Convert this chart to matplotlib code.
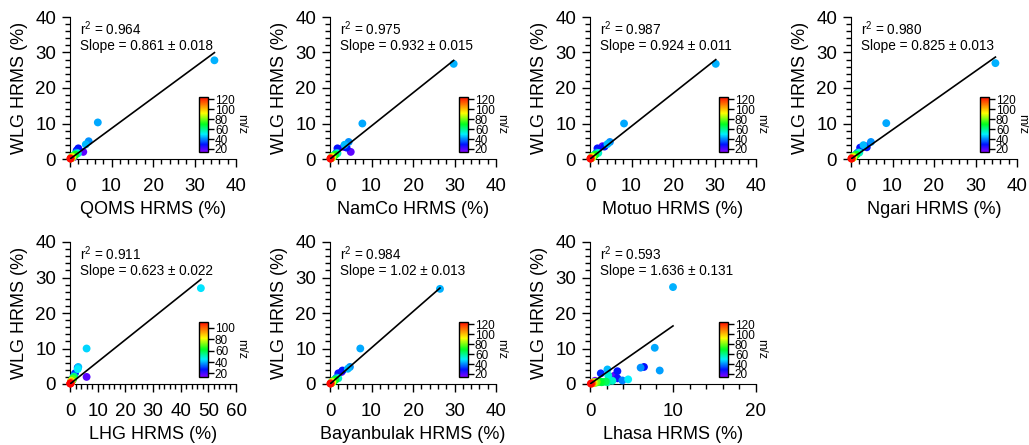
import numpy as np
import matplotlib.pyplot as plt
from matplotlib.colors import LinearSegmentedColormap
from matplotlib.ticker import MultipleLocator

plt.rcParams['font.family'] = 'Liberation Sans'
plt.rcParams['mathtext.fontset'] = 'custom'
plt.rcParams['mathtext.rm'] = 'Liberation Sans'
plt.rcParams['mathtext.default'] = 'regular'

# ion m/z shared by all sites
mz = [15, 18, 27, 28, 29, 31, 39, 41, 42, 43, 44, 45, 50, 53, 55,
      57, 60, 65, 67, 69, 71, 77, 79, 81, 85, 91, 95, 105, 115, 125]

# fraction of total signal (%) at each site (x) against WLG (y)
qoms_x = [0.9, 3.2, 1.6, 2.0, 1.6, 0.8, 1.5, 4.5, 0.9, 6.7, 34.8, 3.8, 0.3, 0.8, 1.9,
          1.2, 0.4, 0.5, 1.0, 1.3, 0.7, 0.6, 0.5, 0.6, 0.4, 0.5, 0.3, 0.2, 0.15, 0.1]
qoms_y = [0.5, 2.0, 1.5, 3.0, 2.4, 0.9, 1.8, 5.0, 1.0, 10.3, 27.8, 4.1, 0.3, 0.7, 1.6,
          1.3, 0.5, 0.6, 0.9, 1.2, 0.8, 0.6, 0.4, 0.7, 0.3, 0.5, 0.3, 0.2, 0.15, 0.1]

namco_x = [3.3, 5.0, 1.4, 1.8, 4.0, 0.8, 1.5, 4.5, 0.9, 7.8, 29.8, 3.5, 0.3, 0.8, 1.8,
           1.2, 0.4, 0.5, 1.0, 1.3, 0.7, 0.6, 0.5, 0.6, 0.4, 0.5, 0.3, 0.2, 0.15, 0.1]
namco_y = [3.4, 2.0, 1.5, 3.0, 3.2, 0.9, 1.7, 4.8, 1.0, 10.0, 26.8, 4.0, 0.3, 0.7, 1.6,
           1.2, 0.5, 0.6, 0.9, 1.2, 0.8, 0.6, 0.4, 0.7, 0.3, 0.5, 0.3, 0.2, 0.15, 0.1]

motuo_x = [1.0, 3.0, 1.4, 1.8, 3.5, 0.8, 1.6, 4.8, 0.9, 8.2, 30.3, 4.2, 0.3, 0.8, 2.0,
           1.2, 0.4, 0.5, 1.0, 1.3, 0.7, 0.6, 0.5, 0.6, 0.4, 0.5, 0.3, 0.2, 0.15, 0.1]
motuo_y = [1.0, 3.6, 1.5, 3.0, 3.5, 0.9, 1.8, 4.8, 1.0, 10.0, 26.8, 4.2, 0.3, 0.7, 1.7,
           1.2, 0.5, 0.6, 0.9, 1.2, 0.8, 0.6, 0.4, 0.7, 0.3, 0.5, 0.3, 0.2, 0.15, 0.1]

ngari_x = [1.0, 3.5, 1.4, 2.2, 3.8, 0.8, 1.6, 4.8, 0.9, 8.5, 34.8, 3.0, 0.3, 0.8, 2.0,
           1.2, 0.4, 0.5, 1.0, 1.3, 0.7, 0.6, 0.5, 0.6, 0.4, 0.5, 0.3, 0.2, 0.15, 0.1]
ngari_y = [1.0, 3.6, 1.5, 3.2, 3.3, 0.9, 1.8, 4.8, 1.0, 10.1, 27.0, 3.9, 0.3, 0.7, 1.8,
           1.2, 0.5, 0.6, 0.9, 1.2, 0.8, 0.6, 0.4, 0.7, 0.3, 0.5, 0.3, 0.2, 0.15, 0.1]

lhg_x = [1.0, 6.0, 1.2, 2.8, 1.8, 0.6, 1.4, 3.0, 0.8, 6.0, 47.3, 2.8, 0.3, 0.7, 1.5,
         1.0, 0.4, 0.5, 0.8, 1.1, 0.6, 0.5, 0.4, 0.5, 0.3, 0.4, 0.3, 0.2, 0.15, 0.1]
lhg_y = [1.2, 2.0, 1.8, 4.6, 3.0, 1.0, 2.2, 4.8, 1.2, 10.0, 27.0, 4.2, 0.4, 1.0, 2.0,
         1.6, 0.6, 0.7, 1.1, 1.4, 0.9, 0.7, 0.5, 0.8, 0.4, 0.6, 0.3, 0.2, 0.15, 0.1]

bayan_x = [1.0, 2.8, 1.4, 2.0, 3.0, 0.8, 1.6, 4.8, 0.9, 7.3, 26.5, 4.3, 0.3, 0.8, 2.0,
           1.3, 0.4, 0.5, 1.0, 1.3, 0.7, 0.6, 0.5, 0.6, 0.4, 0.5, 0.3, 0.2, 0.15, 0.1]
bayan_y = [1.0, 3.4, 1.5, 3.0, 3.8, 0.9, 1.8, 4.8, 1.0, 10.0, 26.8, 4.3, 0.3, 0.7, 1.6,
           1.3, 0.5, 0.6, 0.9, 1.2, 0.8, 0.6, 0.4, 0.7, 0.3, 0.5, 0.3, 0.2, 0.15, 0.1]

lhasa_x = [0.6, 2.9, 3.3, 6.5, 3.3, 1.3, 3.9, 6.1, 8.4, 7.8, 10.0, 2.1, 4.6, 2.2, 2.7,
           2.1, 1.6, 1.9, 1.4, 1.2, 0.9, 0.7, 0.8, 0.6, 0.5, 0.4, 0.35, 0.3, 0.2, 0.1]
lhasa_y = [0.9, 2.3, 1.6, 4.8, 3.6, 3.0, 1.0, 4.6, 3.8, 10.2, 27.3, 4.1, 1.3, 2.4, 0.9,
           0.5, 0.6, 0.7, 0.5, 0.7, 0.5, 0.4, 0.6, 0.4, 0.3, 0.5, 0.3, 0.2, 0.15, 0.1]

sites = ['QOMS', 'NamCo', 'Motuo', 'Ngari', 'LHG', 'Bayanbulak', 'Lhasa']
x_data = [qoms_x, namco_x, motuo_x, ngari_x, lhg_x, bayan_x, lhasa_x]
y_data = [qoms_y, namco_y, motuo_y, ngari_y, lhg_y, bayan_y, lhasa_y]
r2 = ['0.964', '0.975', '0.987', '0.980', '0.911', '0.984', '0.593']
slope = [0.861, 0.932, 0.924, 0.825, 0.623, 1.02, 1.636]
slope_err = ['0.018', '0.015', '0.011', '0.013', '0.022', '0.013', '0.131']
x_max = [40, 40, 40, 40, 60, 40, 20]
cbar_max = [126, 126, 126, 126, 111, 126, 126]

# violet -> blue -> cyan -> green -> yellow -> red
rainbow = LinearSegmentedColormap.from_list('rainbow_mz', [
    (0.0, '#8000ff'), (0.13, '#0010ff'), (0.32, '#00f0ff'), (0.5, '#00ff20'),
    (0.7, '#ffff00'), (0.85, '#ff8000'), (1.0, '#ff0000')])


def style_axis(ax, xmax):
    for side in ['top', 'right']:
        ax.spines[side].set_visible(False)
    ax.set_xlim(0, xmax)
    ax.set_ylim(0, 40)
    ax.xaxis.set_major_locator(MultipleLocator(10))
    ax.xaxis.set_minor_locator(MultipleLocator(2))
    ax.yaxis.set_major_locator(MultipleLocator(10))
    ax.yaxis.set_minor_locator(MultipleLocator(2))
    ax.tick_params(which='major', direction='out', length=6, width=1, labelsize=13.5)
    ax.tick_params(which='minor', direction='out', length=3.5, width=1)
    ax.tick_params(axis='x', which='major', pad=8)
    ax.tick_params(axis='y', which='major', pad=4)


def draw_panel(fig, rect, i):
    ax = fig.add_axes(rect)
    style_axis(ax, x_max[i])
    x = np.array(x_data[i])
    y = np.array(y_data[i])
    sc = ax.scatter(x, y, c=mz, cmap=rainbow, vmin=14, vmax=cbar_max[i],
                    s=32, edgecolors='none', clip_on=False, zorder=3)
    # fit through the origin
    xx = np.array([0, x.max()])
    ax.plot(xx, slope[i] * xx, color='black', lw=1.2, zorder=4)
    ax.text(0.06, 0.873, 'r$^{2}$ = ' + r2[i], transform=ax.transAxes, fontsize=9.8)
    ax.text(0.06, 0.768, f'Slope = {slope[i]} \u00b1 {slope_err[i]}',
            transform=ax.transAxes, fontsize=9.8)
    ax.set_xlabel(f'{sites[i]} HRMS (%)', fontsize=13, labelpad=4)
    ax.set_ylabel('WLG HRMS (%)', fontsize=13, labelpad=5)

    cax = ax.inset_axes([0.777, 0.05, 0.054, 0.39])
    cb = fig.colorbar(sc, cax=cax)
    cb.set_ticks([20, 40, 60, 80, 100, 120] if cbar_max[i] > 120 else [20, 40, 60, 80, 100])
    cb.outline.set_linewidth(1)
    cax.tick_params(length=4, width=1, labelsize=8.5, pad=1)
    cb.set_label('m/z', rotation=270, fontsize=9, labelpad=9)
    return ax


def main():
    fig = plt.figure(figsize=(10.29, 4.45), dpi=100)
    W, H = 1029, 445
    lefts = [70, 330, 590, 851]
    w, h = 166 / W, 142 / H
    for i in range(7):
        row, col = divmod(i, 4)
        bottom = (H - 159) / H if row == 0 else (H - 384) / H
        draw_panel(fig, [lefts[col] / W, bottom, w, h], i)
    fig.savefig('out.png', dpi=100)


if __name__ == '__main__':
    main()
